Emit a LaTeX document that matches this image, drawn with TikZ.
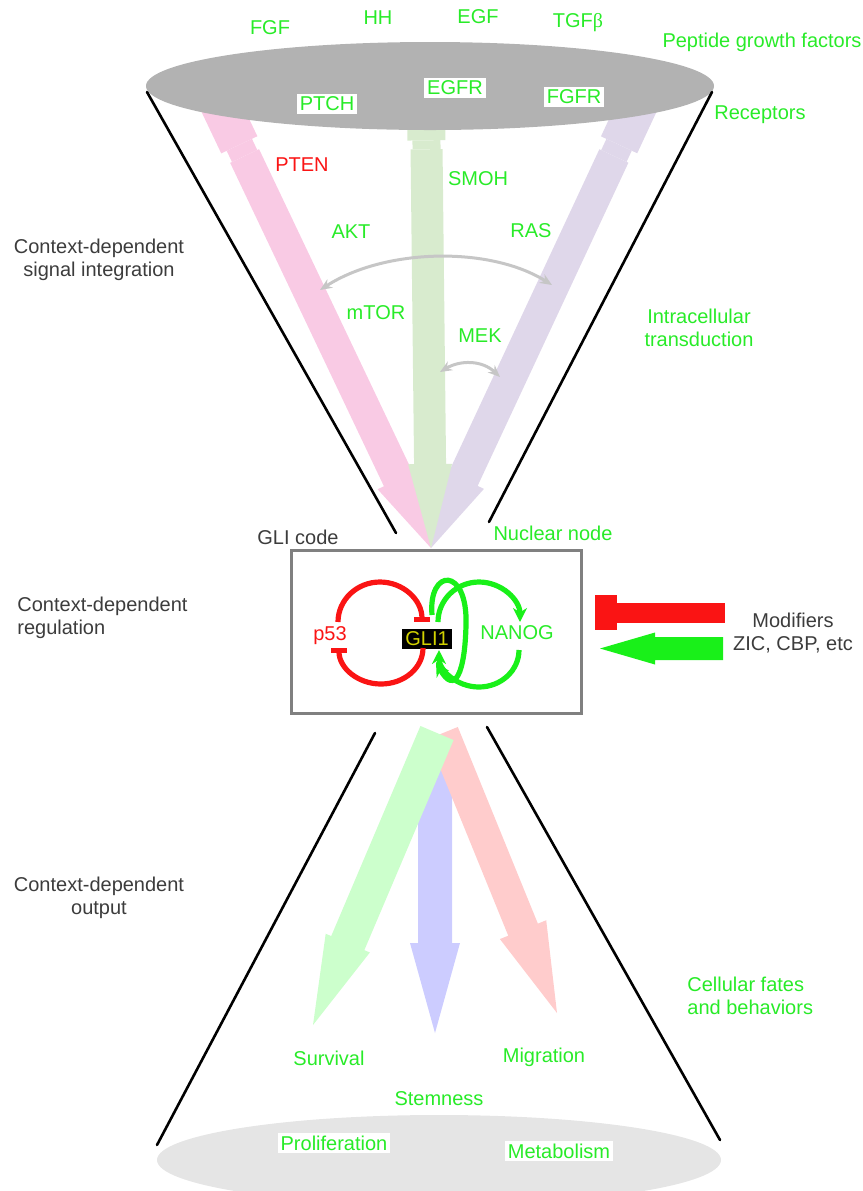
\documentclass[tikz,border=0pt]{standalone}
\usepackage{fontspec}
\setmainfont{Liberation Sans}
\newfontfamily\greekfont{Liberation Serif}
\usetikzlibrary{arrows.meta,calc}

\definecolor{lime}{RGB}{40,235,40}
\definecolor{loopgreen}{RGB}{25,240,25}
\definecolor{inhred}{RGB}{250,20,20}
\definecolor{darktext}{RGB}{60,60,60}
\definecolor{gliyellow}{RGB}{210,210,0}
\definecolor{pinkflow}{RGB}{249,202,228}
\definecolor{greenflow}{RGB}{216,235,206}
\definecolor{purpleflow}{RGB}{223,215,234}
\definecolor{survflow}{RGB}{204,255,204}
\definecolor{stemflow}{RGB}{204,204,255}
\definecolor{migflow}{RGB}{255,204,204}

\tikzstyle{factor}=[
	text=lime,
	inner sep=1pt,
	font=\fontsize{10}{11.5}\selectfont
]
\tikzstyle{receptor}=[factor, fill=white, inner sep=1.5pt]
\tikzstyle{suppressor}=[factor, text=inhred]
\tikzstyle{level}=[
	text=darktext,
	align=center,
	inner sep=1pt,
	font=\fontsize{10}{11.5}\selectfont
]
\tikzstyle{cone}=[line width=1.3pt, line cap=round]
\tikzstyle{crosstalk}=[
	line width=1.5pt,
	draw=gray!45,
	{Stealth[length=6pt,width=5pt]}-{Stealth[length=6pt,width=5pt]}
]
\tikzstyle{inhibit}=[line width=2.6pt, draw=inhred, -{Bar[width=8pt]}]
\tikzstyle{activate}=[line width=2.6pt, draw=loopgreen, -{Stealth[length=7pt,width=7pt]}]

% straight band of given half width between two points
\newcommand{\flowband}[4]{\fill[#1] ($(#2)!#4!90:(#3)$) -- ($(#3)!#4!-90:(#2)$)
	-- ($(#3)!#4!90:(#2)$) -- ($(#2)!#4!-90:(#3)$) -- cycle;}
% fat arrow: colour, tail, tip, half shaft, half head, head length
\newcommand{\flowarrow}[6]{\coordinate (fh) at ($(#3)!#6!(#2)$);
	\fill[#1] ($(#2)!#4!90:(#3)$) -- ($(fh)!#4!90:(#3)$) -- ($(fh)!#5!90:(#3)$)
	-- (#3) -- ($(fh)!#5!-90:(#3)$) -- ($(fh)!#4!-90:(#3)$) -- ($(#2)!#4!-90:(#3)$) -- cycle;}

\begin{document}
\begin{tikzpicture}[x=0.5pt, y=-0.5pt]
\useasboundingbox (0,0) rectangle (863,1191);

% incoming signals
\coordinate (tip) at (431,548);
\coordinate (ptchT) at (218,100);
\coordinate (egfrT) at (426,100);
\coordinate (fgfrT) at (640,100);
\coordinate (ptchA) at ($(ptchT)!0.1!(tip)$);
\coordinate (ptchB) at ($(ptchT)!0.125!(tip)$);
\coordinate (egfrA) at ($(egfrT)!0.09!(tip)$);
\coordinate (egfrB) at ($(egfrT)!0.11!(tip)$);
\coordinate (fgfrA) at ($(fgfrT)!0.1!(tip)$);
\coordinate (fgfrB) at ($(fgfrT)!0.125!(tip)$);
\flowband{pinkflow}{ptchT}{ptchA}{10pt}
\flowband{pinkflow}{ptchA}{ptchB}{7pt}
\flowarrow{pinkflow}{ptchB}{tip}{8pt}{11.5pt}{38pt}
\flowband{purpleflow}{fgfrT}{fgfrA}{10pt}
\flowband{purpleflow}{fgfrA}{fgfrB}{7pt}
\flowarrow{purpleflow}{fgfrB}{tip}{8pt}{11.5pt}{38pt}
\flowband{greenflow}{egfrT}{egfrA}{9.5pt}
\flowband{greenflow}{egfrA}{egfrB}{7pt}
\flowarrow{greenflow}{egfrB}{tip}{8pt}{11pt}{42pt}

% membrane
\fill[gray!60] (430,86) ellipse [x radius=284, y radius=44];

% cone of signal integration
\coordinate (topL) at (147,92);
\coordinate (topR) at (712,92);
\coordinate (neckL) at (396,533);
\coordinate (neckR) at (489,522);
\draw[cone] (topL) -- (neckL);
\draw[cone] (topR) -- (neckR);

% cross-talk
\coordinate (ctA) at (320,290);
\coordinate (ctB) at (552,285);
\coordinate (ctC) at (440,372);
\coordinate (ctD) at (500,377);
\draw[crosstalk] (ctA) .. controls (385,248) and (490,246) .. (ctB);
\draw[crosstalk] (ctC) .. controls (460,360) and (482,360) .. (ctD);

% outgoing fates
\coordinate (stemT) at (435,742);
\coordinate (stemH) at (435,1033);
\coordinate (migT) at (443,733);
\coordinate (migH) at (557,1013);
\coordinate (survT) at (437,733);
\coordinate (survH) at (313,1025);
\flowarrow{stemflow}{stemT}{stemH}{8.5pt}{12.5pt}{45pt}
\flowarrow{migflow}{migT}{migH}{8pt}{12.5pt}{45pt}
\flowarrow{survflow}{survT}{survH}{9pt}{12pt}{44.5pt}

% cone of output
\coordinate (botL) at (157,1145);
\coordinate (botR) at (720,1140);
\coordinate (baseL) at (375,733);
\coordinate (baseR) at (487,727);
\fill[gray!20] (439,1160) ellipse [x radius=282, y radius=45];
\draw[cone] (baseL) -- (botL);
\draw[cone] (baseR) -- (botR);

% nuclear node
\node[draw=gray, line width=1.5pt, minimum width=145pt, minimum height=81.5pt] (nucleus) at (436.5,631.5) {};
\node[fill=black, text=gliyellow, inner sep=1.5pt, minimum width=24.5pt, font=\fontsize{10}{11.5}\selectfont] (GLI1) at (427,639) {GLI1};
\node[suppressor] (p53) at (330,636) {p53};
\node[factor] (NANOG) at (517,633) {NANOG};
\coordinate (redUp) at (338,622);
\coordinate (redLow) at (423,648);
\draw[inhibit] (redUp) arc[start angle=180, end angle=360, x radius=42, y radius=40];
\draw[inhibit] (redLow) arc[start angle=0, end angle=180, x radius=42, y radius=36];
\coordinate (grnUp) at (438,622);
\coordinate (grnLow) at (519,650);
\coordinate (grnIn) at (432,615);
\coordinate (grnOut) at (436,662);
\draw[activate] (grnUp) arc[start angle=180, end angle=360, x radius=41, y radius=40];
\draw[activate] (grnLow) arc[start angle=0, end angle=180, x radius=40, y radius=37];
\draw[activate] (grnIn) .. controls (428,568) and (468,566) .. (466,625) .. controls (465,672) and (455,696) .. (grnOut);

% modifiers
\coordinate (modA) at (725,613);
\coordinate (modB) at (617,613);
\coordinate (modC) at (606,595);
\coordinate (modD) at (606,630);
\coordinate (modE) at (723,648.5);
\coordinate (modF) at (600,648.5);
\flowband{inhred}{modA}{modB}{5pt}
\flowband{inhred}{modC}{modD}{5.5pt}
\flowarrow{loopgreen}{modE}{modF}{5.75pt}{8pt}{27.5pt}

% labels
\node[factor] (FGF) at (270,28) {FGF};
\node[factor] (HH) at (378,18) {HH};
\node[factor] (EGF) at (478,17) {EGF};
\node[factor] (TGFb) at (578,23) {TGF{\greekfont β}};
\node[factor] (peptide) at (762,42) {Peptide growth factors};
\node[receptor] (PTCH) at (327,104) {PTCH};
\node[receptor] (EGFR) at (455,88) {EGFR};
\node[receptor] (FGFR) at (574,97) {FGFR};
\node[factor] (receptors) at (760,115) {Receptors};
\node[suppressor] (PTEN) at (302,165) {PTEN};
\node[factor] (SMOH) at (478,179) {SMOH};
\node[factor] (AKT) at (351,232) {AKT};
\node[factor] (RAS) at (531,231) {RAS};
\node[factor] (mTOR) at (376,313) {mTOR};
\node[factor] (MEK) at (480,336) {MEK};
\node[factor, align=center] (transduction) at (699,328) {Intracellular\\transduction};
\node[level] (integration) at (99,260) {Context-dependent\\signal integration};
\node[level] (glicode) at (298,537) {GLI code};
\node[factor] (nuclear) at (553,533) {Nuclear node};
\node[level, align=left, anchor=west] (regulation) at (15,618) {Context-dependent\\regulation};
\node[level] (modifiers) at (793,633) {Modifiers\\ZIC, CBP, etc};
\node[level] (output) at (99,898) {Context-dependent\\output};
\node[factor, align=left, anchor=west] (fates) at (685,996) {Cellular fates\\and behaviors};
\node[factor] (survival) at (329,1058) {Survival};
\node[factor] (migration) at (544,1057) {Migration};
\node[receptor] (stemness) at (439,1099) {Stemness};
\node[receptor] (proliferation) at (334,1143) {Proliferation};
\node[receptor] (metabolism) at (559,1151) {Metabolism};
\end{tikzpicture}
\end{document}
